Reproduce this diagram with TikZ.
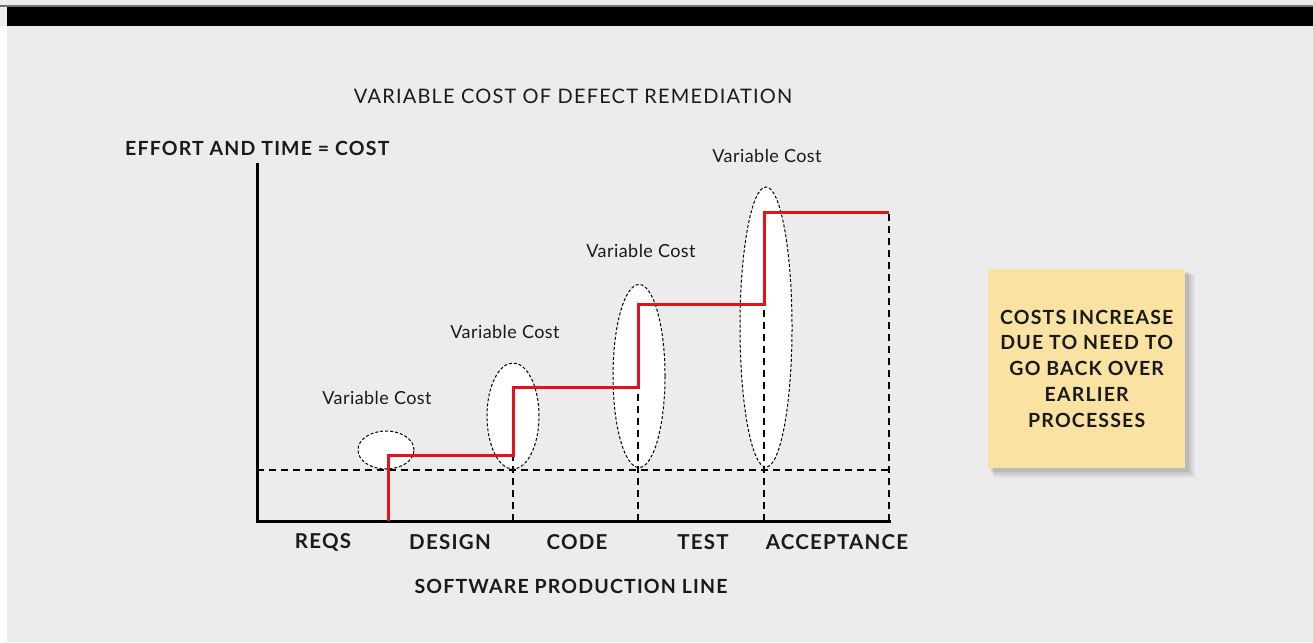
\documentclass[tikz,border=0pt]{standalone}
\usepackage{fontspec}
\setmainfont{Lato}
\newfontfamily\spaced[LetterSpace=6]{Lato}
\newfontfamily\lspaced[LetterSpace=2.5]{Lato}
\usetikzlibrary{shapes.geometric}
\definecolor{bg}{HTML}{ECECEC}
\definecolor{redline}{HTML}{E3121C}
\definecolor{notecol}{HTML}{FAE3A2}
\definecolor{ink}{HTML}{1A1A1A}
\begin{document}
\begin{tikzpicture}[x=1pt,y=-1pt,
  lighttext/.style={font=\lspaced\fontsize{18}{20}\selectfont, text=ink, inner sep=0pt},
  boldlabel/.style={font=\spaced\bfseries\fontsize{19.5}{22}\selectfont, text=ink, inner sep=0pt},
  axislabel/.style={font=\spaced\bfseries\fontsize{20.5}{22}\selectfont, text=ink, inner sep=0pt},
  vcell/.style={ellipse, draw=black, fill=white, line width=1pt, dash pattern=on 3pt off 2pt, inner sep=0pt},
  gridline/.style={draw=black, line width=1.8pt, dash pattern=on 7pt off 5pt},
  axisline/.style={draw=black, line width=3pt},
  stepline/.style={draw=redline, line width=3pt, line join=miter},
  notebox/.style={fill=notecol, minimum width=197pt, minimum height=199pt, inner sep=0pt}]
% background and frame
\useasboundingbox (0,0) rectangle (1313,642);
\fill[bg] (0,0) rectangle (1313,642);
\fill[white] (0,26) rectangle (7,642);
\fill[black!55] (0,5.5) rectangle (1313,7);
\fill[black] (7,7) rectangle (1313,26);

% title
\node[lighttext, font=\spaced\fontsize{20}{22}\selectfont] (title) at (573,96) {VARIABLE COST OF DEFECT REMEDIATION};
\node[boldlabel, anchor=west] (ylabel) at (125,148) {EFFORT AND TIME = COST};

% ellipses
\node[vcell, minimum width=56pt, minimum height=38pt] (e1) at (386,450) {};
\node[vcell, minimum width=52pt, minimum height=106pt] (e2) at (513,416) {};
\node[vcell, minimum width=52pt, minimum height=183pt] (e3) at (639,376) {};
\node[vcell, minimum width=52pt, minimum height=280pt] (e4) at (766,327) {};

% coordinates
\coordinate (origin) at (257,521);
\coordinate (ytop) at (257,163);
\coordinate (xend) at (891,521);
\coordinate (b0) at (257,470);

% dashed grid
\draw[gridline] (b0) -- (889,470);
\draw[gridline] (513,521) -- (513,455);
\draw[gridline] (638,521) -- (638,387);
\draw[gridline] (764,521) -- (764,304);
\draw[gridline] (889,521) -- (889,212);

% axes
\draw[axisline] (ytop) -- (origin) -- (xend);

% red step line
\draw[stepline] (388,521) -- (388,455) -- (513,455) -- (513,387) -- (638,387) -- (638,304) -- (764,304) -- (764,212) -- (889,212);

% variable cost labels
\node[lighttext] (v1) at (377,398) {Variable Cost};
\node[lighttext] (v2) at (505,332) {Variable Cost};
\node[lighttext] (v3) at (641,251) {Variable Cost};
\node[lighttext] (v4) at (767,156) {Variable Cost};

% axis labels
\node[axislabel] (reqs) at (323,542) {REQS};
\node[axislabel] (design) at (450,542) {DESIGN};
\node[axislabel] (code) at (577,542) {CODE};
\node[axislabel] (test) at (703,542) {TEST};
\node[axislabel] (accept) at (837,542) {ACCEPTANCE};
\node[boldlabel] (xlabel) at (571,586) {SOFTWARE PRODUCTION LINE};

% sticky note with soft shadow
\foreach \i/\o in {8/0.04,6/0.05,4/0.06,2/0.07}{
  \fill[black, opacity=\o] (988+2+\i*0.5,269+2+\i*0.5) rectangle (1185+2+\i,468+2+\i);
}
\node[notebox, anchor=north west] (note) at (988,269) {};
\node[boldlabel, align=center, font=\spaced\bfseries\fontsize{19.5}{25.8}\selectfont] (notetext) at (note.center) {COSTS INCREASE\\DUE TO NEED TO\\GO BACK OVER\\EARLIER\\PROCESSES};
\end{tikzpicture}
\end{document}
